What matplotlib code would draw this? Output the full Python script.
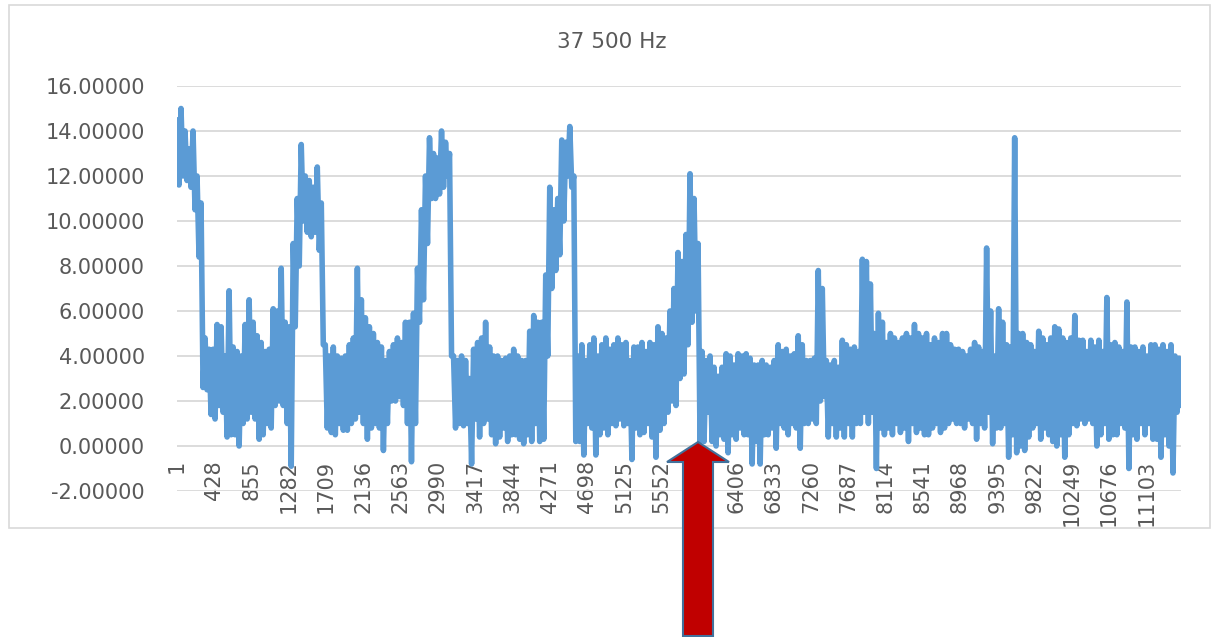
import numpy as np
import matplotlib
matplotlib.use("Agg")
import matplotlib.pyplot as plt
from matplotlib.patches import Polygon, Rectangle

# the trace: for every ~46 samples the top and the
# bottom of the noisy band (same grouping on each line of both lists)
upper = [
    14.5, 15.0, 14.0, 13.2, 14.0, 12.0,     # first burst
    10.8, 4.8, 4.3, 4.3, 5.4, 5.3, 4.0, 6.9,
    4.4, 4.2, 4.0, 5.4, 6.5, 5.5, 4.9, 4.6,
    4.2, 4.3, 6.1, 6.0, 7.9, 5.5, 5.3,
    9.0, 11.0, 13.4, 12.0, 11.8, 11.5, 12.4, 10.8,     # second burst
    4.5, 4.0, 4.4, 4.0, 3.9, 4.0, 4.5, 4.8, 7.9, 6.5,
    5.7, 5.3, 5.0, 4.6, 4.4, 3.8, 4.2, 4.5, 4.8, 4.6, 5.5,
    5.5, 5.9, 7.9, 10.5, 12.0, 13.7, 13.0, 12.8, 14.0, 13.5, 13.0,     # third burst
    4.0, 3.8, 4.0, 3.8, 3.0, 4.3, 4.6, 4.8, 5.5, 4.4,
    4.0, 4.0, 3.8, 3.9, 4.0, 4.3, 4.0, 3.8, 3.8, 5.1, 5.8, 5.5, 5.5,
    7.6, 11.5, 10.5, 11.0, 13.6, 13.5, 14.2, 12.0,     # fourth burst
    4.0, 4.5, 3.8, 4.5, 4.8, 4.0, 4.5, 4.8, 4.3,
    4.5, 4.8, 4.5, 4.6, 3.8, 4.4, 4.4, 4.6, 4.2, 4.6, 4.5,
    5.3, 5.0, 4.8, 6.0, 7.0, 8.6, 8.2, 9.4, 12.1, 11.0, 9.0,     # fifth burst
    4.2, 3.8, 4.0, 3.5, 3.1, 3.5, 4.1, 4.0, 3.6, 4.1, 4.0,
    4.1, 3.9, 3.6, 3.6, 3.8, 3.6, 3.5, 3.8, 4.5, 4.2,
    4.3, 4.0, 4.1, 4.9, 4.5, 3.8, 3.8, 3.9, 7.8, 7.0,
    3.8, 3.6, 3.8, 3.5, 4.7, 4.5, 4.3, 4.4, 4.2, 8.3, 8.2, 7.2,
    5.0, 5.9, 5.5, 4.6, 5.0, 4.8, 4.6, 4.8, 5.0, 4.8, 5.4, 5.0, 4.8,
    5.0, 4.5, 4.8, 4.6, 5.0, 5.0, 4.5, 4.3, 4.3, 4.2, 4.0, 4.3,
    4.6, 4.4, 4.2, 8.8, 6.0, 4.0, 6.1, 5.5, 4.5, 4.4, 13.7,
    5.0, 5.0, 4.6, 4.5, 4.2, 5.1, 4.8, 4.5, 4.8, 5.3, 5.2, 4.8,
    4.6, 4.8, 5.8, 4.7, 4.7, 4.2, 4.7, 4.4, 4.7, 4.2, 6.6, 4.5,
    4.6, 4.4, 4.2, 6.4, 4.4, 4.4, 4.2, 4.4, 4.0, 4.5,
    4.5, 4.3, 4.5, 4.2, 4.5, 4.0, 3.9,
]
lower = [
    11.6, 12.0, 11.8, 11.5, 10.5, 8.4,
    2.6, 2.5, 1.4, 1.2, 1.8, 1.5, 0.4, 0.5,
    0.5, 0.0, 1.0, 1.2, 1.5, 1.2, 0.3, 0.5,
    1.0, 0.8, 1.8, 2.0, 1.8, 1.0, -0.9,
    5.3, 8.0, 10.0, 9.5, 9.3, 9.5, 8.7, 4.5,
    0.8, 0.6, 0.5, 1.0, 0.7, 0.7, 1.0, 1.2, 1.5, 1.0,
    0.3, 0.8, 1.0, 0.8, -0.2, 1.0, 2.0, 2.0, 2.2, 1.8, 1.0,
    -0.7, 1.0, 5.5, 6.5, 9.0, 11.0, 11.0, 11.2, 11.5, 12.0, 4.0,
    0.8, 1.0, 0.9, 1.0, -0.8, 1.2, 0.4, 1.0, 1.2, 0.5,
    0.1, 0.4, 0.8, 0.2, 0.5, 0.5, 0.3, 0.1, 0.5, 0.2, 1.0, 0.2, 0.3,
    4.0, 7.0, 7.8, 8.5, 10.0, 12.0, 11.5, 0.2,
    0.2, -0.4, 1.0, 0.8, -0.4, 0.5, 0.8, 0.5, 1.0,
    0.9, 1.2, 0.9, 1.0, -0.6, 0.8, 0.5, 0.6, 1.0, 0.4, -0.5,
    0.7, 1.0, 1.5, 2.0, 1.8, 3.0, 3.2, 4.5, 5.5, 6.0, 0.2,
    0.2, 1.5, 0.2, 0.0, 0.5, 0.3, -0.3, 0.5, 0.3, 0.8, 0.5,
    0.5, -0.8, 0.2, -0.8, 0.5, 0.5, 0.8, -0.1, 1.0, 0.8,
    0.5, 1.0, 0.8, -0.1, 1.0, 1.0, 1.2, 1.0, 2.0, 2.2,
    0.4, 1.0, 0.4, 0.8, 0.4, 1.0, 0.4, 1.0, 1.0, 1.5, 1.0, 1.5,
    -1.0, 0.8, 0.5, 0.8, 0.5, 1.0, 0.6, 0.8, 0.2, 1.0, 0.6, 0.8, 0.5,
    0.5, 0.8, 1.0, 0.6, 0.8, 1.0, 1.2, 1.0, 1.0, 0.8, 1.2, 1.0,
    0.3, 1.0, 0.8, 1.5, 0.1, 0.8, 0.8, 1.0, -0.5, 0.5, -0.3,
    0.0, -0.2, 0.4, 0.8, 1.0, 0.3, 0.8, 0.5, 0.2, 0.0, 0.5, -0.5,
    0.5, 1.0, 0.9, 1.2, 1.0, 1.2, 1.0, 0.0, 0.5, 1.0, 0.3, 0.5,
    0.5, 1.0, 0.8, -1.0, 0.5, 0.3, 1.0, 0.5, 1.0, 0.3,
    0.3, -0.5, 0.5, 0.0, -1.2, 1.5, 1.8,
]
n_samples = 11500
tick_step = 427
title = "37 500 Hz"
y_ticks = [-2, 0, 2, 4, 6, 8, 10, 12, 14, 16]

# top and bottom alternate along the trace
values = [v for pair in zip(upper, lower) for v in pair]

W, H = 1212, 637
fig = plt.figure(figsize=(W / 100, H / 100), dpi=100)
fig.patch.set_facecolor("white")

ax = fig.add_axes([177 / W, 1 - 491 / H, (1181 - 177) / W, (491 - 86) / H])
x = np.linspace(1, n_samples, len(values))
ax.plot(x, values, color="#5B9BD5", lw=4.0, solid_joinstyle="round",
        solid_capstyle="round", zorder=3)

ax.set_xlim(1, n_samples)
ax.set_ylim(-2, 16)
ax.set_yticks(y_ticks)
ax.set_yticklabels([f"{v:.5f}" for v in y_ticks])
ax.yaxis.grid(True, color="#D9D9D9", lw=1.3)
ax.set_axisbelow(True)
for s in ax.spines.values():
    s.set_visible(False)
ax.spines["bottom"].set_position(("data", 0))

xt = np.arange(1, n_samples, tick_step)
ax.set_xticks(xt)
ax.set_xticklabels([str(v) for v in xt], rotation=90, va="top", ha="center",
                   family=["Liberation Sans Narrow", "DejaVu Sans"], fontsize=15,
                   color="#595959")
ax.tick_params(axis="x", length=0, pad=10)
ax.tick_params(axis="y", length=0, pad=23, labelsize=15, labelcolor="#595959")

fig.text(612 / W, 1 - 42 / H, title, ha="center", va="center", fontsize=15.5,
         color="#595959")

# chart frame
fig.patches.append(Rectangle((9 / W, 1 - 528 / H), (1210 - 9) / W, (528 - 5) / H,
                             transform=fig.transFigure, fill=False,
                             edgecolor="#D9D9D9", lw=1.2, zorder=0))

# red arrow pointing at the end of the fifth burst
arrow_px = [(698, 442), (729, 462), (713, 462), (713, 636), (683, 636), (683, 462), (667, 462)]
arrow = Polygon([(px / W, 1 - py / H) for px, py in arrow_px], closed=True,
                transform=fig.transFigure, facecolor="#C00000", edgecolor="#41719C",
                lw=1.5, zorder=10)
fig.patches.append(arrow)

fig.savefig("out.png", dpi=100)
